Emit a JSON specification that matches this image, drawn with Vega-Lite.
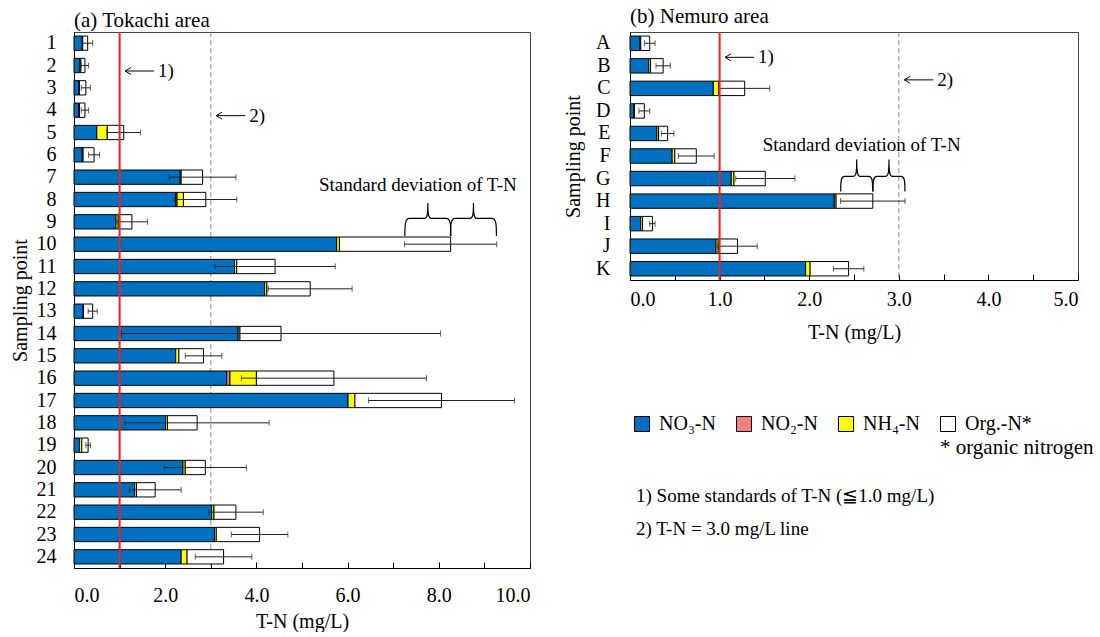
{
  "$schema": "https://vega.github.io/schema/vega-lite/v6.json",
  "background": "white",
  "padding": {"left": 9, "top": 5, "right": 5, "bottom": 0},
  "spacing": 32,
  "config": {
    "font": "Liberation Serif",
    "view": {"stroke": "#444", "strokeWidth": 1},
    "axis": {"labelFont": "Liberation Serif", "titleFont": "Liberation Serif", "labelFontSize": 20, "titleFontSize": 20, "titleFontWeight": "normal", "labelColor": "black", "titleColor": "black", "domainColor": "black", "tickColor": "black", "grid": false, "labelOverlap": false},
    "title": {"font": "Liberation Serif", "fontWeight": "normal", "color": "black"},
    "text": {"font": "Liberation Serif", "fontSize": 19, "color": "black"}
  },
  "datasets": {
    "tokachi": [
      {"point": "1", "comp": "NO₃-N", "k": 1, "v": 0.18}, {"point": "1", "comp": "NH₄-N", "k": 3, "v": 0.01}, {"point": "1", "comp": "Org.-N*", "k": 4, "v": 0.11},
      {"point": "2", "comp": "NO₃-N", "k": 1, "v": 0.12}, {"point": "2", "comp": "NH₄-N", "k": 3, "v": 0.03}, {"point": "2", "comp": "Org.-N*", "k": 4, "v": 0.09},
      {"point": "3", "comp": "NO₃-N", "k": 1, "v": 0.11}, {"point": "3", "comp": "NH₄-N", "k": 3, "v": 0.01}, {"point": "3", "comp": "Org.-N*", "k": 4, "v": 0.14},
      {"point": "4", "comp": "NO₃-N", "k": 1, "v": 0.10}, {"point": "4", "comp": "NH₄-N", "k": 3, "v": 0.02}, {"point": "4", "comp": "Org.-N*", "k": 4, "v": 0.12},
      {"point": "5", "comp": "NO₃-N", "k": 1, "v": 0.50}, {"point": "5", "comp": "NH₄-N", "k": 3, "v": 0.23}, {"point": "5", "comp": "Org.-N*", "k": 4, "v": 0.36},
      {"point": "6", "comp": "NO₃-N", "k": 1, "v": 0.18}, {"point": "6", "comp": "NH₄-N", "k": 3, "v": 0.02}, {"point": "6", "comp": "Org.-N*", "k": 4, "v": 0.24},
      {"point": "7", "comp": "NO₃-N", "k": 1, "v": 2.33}, {"point": "7", "comp": "NH₄-N", "k": 3, "v": 0.02}, {"point": "7", "comp": "Org.-N*", "k": 4, "v": 0.47},
      {"point": "8", "comp": "NO₃-N", "k": 1, "v": 2.23}, {"point": "8", "comp": "NO₂-N", "k": 2, "v": 0.03}, {"point": "8", "comp": "NH₄-N", "k": 3, "v": 0.14}, {"point": "8", "comp": "Org.-N*", "k": 4, "v": 0.49},
      {"point": "9", "comp": "NO₃-N", "k": 1, "v": 0.92}, {"point": "9", "comp": "NH₄-N", "k": 3, "v": 0.05}, {"point": "9", "comp": "Org.-N*", "k": 4, "v": 0.30},
      {"point": "10", "comp": "NO₃-N", "k": 1, "v": 5.76}, {"point": "10", "comp": "NH₄-N", "k": 3, "v": 0.06}, {"point": "10", "comp": "Org.-N*", "k": 4, "v": 2.44},
      {"point": "11", "comp": "NO₃-N", "k": 1, "v": 3.52}, {"point": "11", "comp": "NH₄-N", "k": 3, "v": 0.05}, {"point": "11", "comp": "Org.-N*", "k": 4, "v": 0.84},
      {"point": "12", "comp": "NO₃-N", "k": 1, "v": 4.18}, {"point": "12", "comp": "NH₄-N", "k": 3, "v": 0.05}, {"point": "12", "comp": "Org.-N*", "k": 4, "v": 0.95},
      {"point": "13", "comp": "NO₃-N", "k": 1, "v": 0.20}, {"point": "13", "comp": "NH₄-N", "k": 3, "v": 0.01}, {"point": "13", "comp": "Org.-N*", "k": 4, "v": 0.20},
      {"point": "14", "comp": "NO₃-N", "k": 1, "v": 3.60}, {"point": "14", "comp": "NH₄-N", "k": 3, "v": 0.04}, {"point": "14", "comp": "Org.-N*", "k": 4, "v": 0.90},
      {"point": "15", "comp": "NO₃-N", "k": 1, "v": 2.23}, {"point": "15", "comp": "NH₄-N", "k": 3, "v": 0.07}, {"point": "15", "comp": "Org.-N*", "k": 4, "v": 0.54},
      {"point": "16", "comp": "NO₃-N", "k": 1, "v": 3.35}, {"point": "16", "comp": "NO₂-N", "k": 2, "v": 0.07}, {"point": "16", "comp": "NH₄-N", "k": 3, "v": 0.58}, {"point": "16", "comp": "Org.-N*", "k": 4, "v": 1.70},
      {"point": "17", "comp": "NO₃-N", "k": 1, "v": 6.01}, {"point": "17", "comp": "NH₄-N", "k": 3, "v": 0.15}, {"point": "17", "comp": "Org.-N*", "k": 4, "v": 1.90},
      {"point": "18", "comp": "NO₃-N", "k": 1, "v": 2.01}, {"point": "18", "comp": "NH₄-N", "k": 3, "v": 0.04}, {"point": "18", "comp": "Org.-N*", "k": 4, "v": 0.65},
      {"point": "19", "comp": "NO₃-N", "k": 1, "v": 0.12}, {"point": "19", "comp": "NH₄-N", "k": 3, "v": 0.05}, {"point": "19", "comp": "Org.-N*", "k": 4, "v": 0.14},
      {"point": "20", "comp": "NO₃-N", "k": 1, "v": 2.39}, {"point": "20", "comp": "NH₄-N", "k": 3, "v": 0.05}, {"point": "20", "comp": "Org.-N*", "k": 4, "v": 0.44},
      {"point": "21", "comp": "NO₃-N", "k": 1, "v": 1.33}, {"point": "21", "comp": "NH₄-N", "k": 3, "v": 0.04}, {"point": "21", "comp": "Org.-N*", "k": 4, "v": 0.41},
      {"point": "22", "comp": "NO₃-N", "k": 1, "v": 3.02}, {"point": "22", "comp": "NH₄-N", "k": 3, "v": 0.05}, {"point": "22", "comp": "Org.-N*", "k": 4, "v": 0.48},
      {"point": "23", "comp": "NO₃-N", "k": 1, "v": 3.08}, {"point": "23", "comp": "NH₄-N", "k": 3, "v": 0.04}, {"point": "23", "comp": "Org.-N*", "k": 4, "v": 0.95},
      {"point": "24", "comp": "NO₃-N", "k": 1, "v": 2.35}, {"point": "24", "comp": "NH₄-N", "k": 3, "v": 0.13}, {"point": "24", "comp": "Org.-N*", "k": 4, "v": 0.80}
    ],
    "tokachiErr": [
      {"point": "1", "total": 0.30, "sd": 0.11}, {"point": "2", "total": 0.24, "sd": 0.08}, {"point": "3", "total": 0.26, "sd": 0.10},
      {"point": "4", "total": 0.24, "sd": 0.08}, {"point": "5", "total": 1.09, "sd": 0.37}, {"point": "6", "total": 0.44, "sd": 0.12},
      {"point": "7", "total": 2.82, "sd": 0.73}, {"point": "8", "total": 2.89, "sd": 0.68}, {"point": "9", "total": 1.27, "sd": 0.34},
      {"point": "10", "total": 8.26, "sd": 1.01}, {"point": "11", "total": 4.41, "sd": 1.32}, {"point": "12", "total": 5.18, "sd": 0.92},
      {"point": "13", "total": 0.41, "sd": 0.10}, {"point": "14", "total": 4.54, "sd": 3.50}, {"point": "15", "total": 2.84, "sd": 0.40},
      {"point": "16", "total": 5.70, "sd": 2.03}, {"point": "17", "total": 8.06, "sd": 1.60}, {"point": "18", "total": 2.70, "sd": 1.58},
      {"point": "19", "total": 0.31, "sd": 0.05}, {"point": "20", "total": 2.88, "sd": 0.90}, {"point": "21", "total": 1.78, "sd": 0.57},
      {"point": "22", "total": 3.55, "sd": 0.60}, {"point": "23", "total": 4.07, "sd": 0.62}, {"point": "24", "total": 3.28, "sd": 0.62}
    ],
    "nemuro": [
      {"point": "A", "comp": "NO₃-N", "k": 1, "v": 0.11}, {"point": "A", "comp": "NH₄-N", "k": 3, "v": 0.01}, {"point": "A", "comp": "Org.-N*", "k": 4, "v": 0.10},
      {"point": "B", "comp": "NO₃-N", "k": 1, "v": 0.21}, {"point": "B", "comp": "NH₄-N", "k": 3, "v": 0.02}, {"point": "B", "comp": "Org.-N*", "k": 4, "v": 0.14},
      {"point": "C", "comp": "NO₃-N", "k": 1, "v": 0.93}, {"point": "C", "comp": "NH₄-N", "k": 3, "v": 0.06}, {"point": "C", "comp": "Org.-N*", "k": 4, "v": 0.29},
      {"point": "D", "comp": "NO₃-N", "k": 1, "v": 0.04}, {"point": "D", "comp": "NH₄-N", "k": 3, "v": 0.01}, {"point": "D", "comp": "Org.-N*", "k": 4, "v": 0.11},
      {"point": "E", "comp": "NO₃-N", "k": 1, "v": 0.30}, {"point": "E", "comp": "NH₄-N", "k": 3, "v": 0.02}, {"point": "E", "comp": "Org.-N*", "k": 4, "v": 0.10},
      {"point": "F", "comp": "NO₃-N", "k": 1, "v": 0.47}, {"point": "F", "comp": "NH₄-N", "k": 3, "v": 0.03}, {"point": "F", "comp": "Org.-N*", "k": 4, "v": 0.24},
      {"point": "G", "comp": "NO₃-N", "k": 1, "v": 1.13}, {"point": "G", "comp": "NH₄-N", "k": 3, "v": 0.03}, {"point": "G", "comp": "Org.-N*", "k": 4, "v": 0.35},
      {"point": "H", "comp": "NO₃-N", "k": 1, "v": 2.28}, {"point": "H", "comp": "NH₄-N", "k": 3, "v": 0.02}, {"point": "H", "comp": "Org.-N*", "k": 4, "v": 0.41},
      {"point": "I", "comp": "NO₃-N", "k": 1, "v": 0.12}, {"point": "I", "comp": "NH₄-N", "k": 3, "v": 0.02}, {"point": "I", "comp": "Org.-N*", "k": 4, "v": 0.11},
      {"point": "J", "comp": "NO₃-N", "k": 1, "v": 0.96}, {"point": "J", "comp": "NH₄-N", "k": 3, "v": 0.025}, {"point": "J", "comp": "Org.-N*", "k": 4, "v": 0.215},
      {"point": "K", "comp": "NO₃-N", "k": 1, "v": 1.96}, {"point": "K", "comp": "NH₄-N", "k": 3, "v": 0.05}, {"point": "K", "comp": "Org.-N*", "k": 4, "v": 0.43}
    ],
    "nemuroErr": [
      {"point": "A", "total": 0.22, "sd": 0.06}, {"point": "B", "total": 0.37, "sd": 0.08}, {"point": "C", "total": 1.28, "sd": 0.28},
      {"point": "D", "total": 0.16, "sd": 0.06}, {"point": "E", "total": 0.42, "sd": 0.07}, {"point": "F", "total": 0.74, "sd": 0.20},
      {"point": "G", "total": 1.51, "sd": 0.33}, {"point": "H", "total": 2.71, "sd": 0.36}, {"point": "I", "total": 0.25, "sd": 0.03},
      {"point": "J", "total": 1.20, "sd": 0.22}, {"point": "K", "total": 2.44, "sd": 0.17}
    ]
  },
  "hconcat": [
    {
      "width": 456,
      "height": 536,
      "title": {"text": "(a) Tokachi area", "anchor": "start", "frame": "group", "fontSize": 21, "offset": 0},
      "layer": [
        {
          "data": {"values": [{"x": 3}]},
          "mark": {"type": "rule", "stroke": "#8c8c8c", "strokeDash": [5, 3], "strokeWidth": 1},
          "encoding": {"x": {"field": "x", "type": "quantitative", "title": "T-N (mg/L)"}}
        },
        {
          "data": {"name": "tokachi"},
          "mark": {"type": "bar", "stroke": "black", "strokeWidth": 1},
          "encoding": {
            "y": {"field": "point", "type": "nominal", "title": "Sampling point",
              "sort": ["1","2","3","4","5","6","7","8","9","10","11","12","13","14","15","16","17","18","19","20","21","22","23","24"],
              "scale": {"domain": ["1","2","3","4","5","6","7","8","9","10","11","12","13","14","15","16","17","18","19","20","21","22","23","24"], "paddingInner": 0.36, "paddingOuter": 0.18},
              "axis": {"ticks": false, "labelPadding": 18, "titlePadding": 6}},
            "x": {"field": "v", "type": "quantitative", "stack": "zero", "title": "T-N (mg/L)",
              "scale": {"domain": [0, 10], "nice": false},
              "axis": {"values": [0,1,2,3,4,5,6,7,8,9,10], "labelExpr": "datum.value % 2 === 0 ? format(datum.value, '.1f') : ''", "tickSize": -6, "labelPadding": 23, "titlePadding": 6}},
            "color": {"field": "comp", "type": "nominal",
              "scale": {"domain": ["NO₃-N", "NO₂-N", "NH₄-N", "Org.-N*"], "range": ["#0070C0", "#FF7C80", "#FFFF00", "#FFFFFF"]},
              "legend": {"orient": "none", "legendX": 558, "legendY": 382, "direction": "horizontal", "columns": 4, "gridAlign": "all", "symbolType": "square", "symbolSize": 225, "symbolStrokeColor": "black", "symbolStrokeWidth": 1, "labelFont": "Liberation Serif", "labelFontSize": 20, "labelColor": "black", "labelOffset": 7, "columnPadding": 8, "title": null}},
            "order": {"field": "k", "type": "quantitative"}
          }
        },
        {
          "data": {"name": "tokachiErr"},
          "mark": {"type": "errorbar", "color": "#222", "thickness": 1, "ticks": {"size": 6}},
          "encoding": {
            "y": {"field": "point", "type": "nominal", "title": "Sampling point"},
            "x": {"field": "total", "type": "quantitative", "title": "T-N (mg/L)"},
            "xError": {"field": "sd"}
          }
        },
        {
          "data": {"values": [{"x": 1}]},
          "mark": {"type": "rule", "stroke": "#EE2222", "strokeWidth": 2},
          "encoding": {"x": {"field": "x", "type": "quantitative", "title": "T-N (mg/L)"}}
        },
        {
          "data": {"values": [{"x": 1, "point": "2"}, {"x": 3, "point": "4"}]},
          "mark": {"type": "point", "shape": "M -1 0 L 1 0 M -0.6 -0.24 L -1 0 L -0.6 0.24", "size": 841, "filled": false, "stroke": "black", "strokeWidth": 1, "opacity": 1, "xOffset": 20, "yOffset": 5.5},
          "encoding": {
            "x": {"field": "x", "type": "quantitative", "title": "T-N (mg/L)"},
            "y": {"field": "point", "type": "nominal", "title": "Sampling point"}
          }
        },
        {
          "data": {"values": [{"x": 1, "point": "2", "label": "1)"}, {"x": 3, "point": "4", "label": "2)"}]},
          "mark": {"type": "text", "align": "left", "baseline": "middle", "xOffset": 38.5, "yOffset": 5.5},
          "encoding": {
            "x": {"field": "x", "type": "quantitative", "title": "T-N (mg/L)"},
            "y": {"field": "point", "type": "nominal", "title": "Sampling point"},
            "text": {"field": "label"}
          }
        },
        {
          "data": {"values": [{"x": 7.54, "point": "8", "label": "Standard deviation of T-N"}]},
          "mark": {"type": "text", "align": "center", "baseline": "middle", "yOffset": -14.5},
          "encoding": {
            "x": {"field": "x", "type": "quantitative", "title": "T-N (mg/L)"},
            "y": {"field": "point", "type": "nominal", "title": "Sampling point"},
            "text": {"field": "label"}
          }
        },
        {
          "data": {"values": [{"x": 7.76, "point": "9"}, {"x": 8.76, "point": "9"}]},
          "mark": {"type": "point", "shape": "M -1 0.717 C -1 0.2 -0.98 -0.05 -0.8 -0.05 L -0.15 -0.05 C -0.03 -0.05 0 -0.2 0 -0.717 C 0 -0.2 0.03 -0.05 0.15 -0.05 L 0.8 -0.05 C 0.98 -0.05 1 0.2 1 0.717", "size": 2116, "filled": false, "stroke": "black", "strokeWidth": 1.2, "opacity": 1, "yOffset": -2.3},
          "encoding": {
            "x": {"field": "x", "type": "quantitative", "title": "T-N (mg/L)"},
            "y": {"field": "point", "type": "nominal", "title": "Sampling point"}
          }
        }
      ]
    },
    {
      "title": {"text": ["1) Some standards of T-N (≦1.0 mg/L)", "2) T-N = 3.0 mg/L line"], "orient": "bottom", "anchor": "start", "frame": "group", "fontSize": 19, "lineHeight": 33, "offset": 29, "dx": 6},
      "vconcat": [
        {
          "title": {"text": "* organic nitrogen", "orient": "bottom", "anchor": "start", "frame": "group", "fontSize": 21, "offset": 94, "dx": 310},
          "vconcat": [
            {
              "width": 448,
              "height": 248,
              "title": {"text": "(b) Nemuro area", "anchor": "start", "frame": "group", "fontSize": 21, "offset": 4},
              "layer": [
                {
                  "data": {"values": [{"x": 3}]},
                  "mark": {"type": "rule", "stroke": "#8c8c8c", "strokeDash": [5, 3], "strokeWidth": 1},
                  "encoding": {"x": {"field": "x", "type": "quantitative", "title": "T-N (mg/L)"}}
                },
                {
                  "data": {"name": "nemuro"},
                  "mark": {"type": "bar", "stroke": "black", "strokeWidth": 1},
                  "encoding": {
                    "y": {"field": "point", "type": "nominal", "title": "Sampling point",
                      "sort": ["A","B","C","D","E","F","G","H","I","J","K"],
                      "scale": {"domain": ["A","B","C","D","E","F","G","H","I","J","K"], "paddingInner": 0.36, "paddingOuter": 0.18},
                      "axis": {"ticks": false, "labelPadding": 20, "titlePadding": 12}},
                    "x": {"field": "v", "type": "quantitative", "stack": "zero", "title": "T-N (mg/L)",
                      "scale": {"domain": [0, 5], "nice": false},
                      "axis": {"values": [0,0.5,1,1.5,2,2.5,3,3.5,4,4.5,5], "labelExpr": "datum.value % 1 === 0 ? format(datum.value, '.1f') : ''", "tickSize": -6, "labelPadding": 15, "titlePadding": 13}},
                    "color": {"field": "comp", "type": "nominal",
                      "scale": {"domain": ["NO₃-N", "NO₂-N", "NH₄-N", "Org.-N*"], "range": ["#0070C0", "#FF7C80", "#FFFF00", "#FFFFFF"]},
                      "legend": {"orient": "none", "legendX": 558, "legendY": 382, "direction": "horizontal", "columns": 4, "gridAlign": "all", "symbolType": "square", "symbolSize": 225, "symbolStrokeColor": "black", "symbolStrokeWidth": 1, "labelFont": "Liberation Serif", "labelFontSize": 20, "labelColor": "black", "labelOffset": 7, "columnPadding": 8, "title": null}},
                    "order": {"field": "k", "type": "quantitative"}
                  }
                },
                {
                  "data": {"name": "nemuroErr"},
                  "mark": {"type": "errorbar", "color": "#222", "thickness": 1, "ticks": {"size": 6}},
                  "encoding": {
                    "y": {"field": "point", "type": "nominal", "title": "Sampling point"},
                    "x": {"field": "total", "type": "quantitative", "title": "T-N (mg/L)"},
                    "xError": {"field": "sd"}
                  }
                },
                {
                  "data": {"values": [{"x": 1}]},
                  "mark": {"type": "rule", "stroke": "#EE2222", "strokeWidth": 2},
                  "encoding": {"x": {"field": "x", "type": "quantitative", "title": "T-N (mg/L)"}}
                },
                {
                  "data": {"values": [{"x": 1, "point": "B"}, {"x": 3, "point": "C"}]},
                  "mark": {"type": "point", "shape": "M -1 0 L 1 0 M -0.6 -0.24 L -1 0 L -0.6 0.24", "size": 841, "filled": false, "stroke": "black", "strokeWidth": 1, "opacity": 1, "xOffset": 20, "yOffset": -8.5},
                  "encoding": {
                    "x": {"field": "x", "type": "quantitative", "title": "T-N (mg/L)"},
                    "y": {"field": "point", "type": "nominal", "title": "Sampling point"}
                  }
                },
                {
                  "data": {"values": [{"x": 1, "point": "B", "label": "1)"}, {"x": 3, "point": "C", "label": "2)"}]},
                  "mark": {"type": "text", "align": "left", "baseline": "middle", "xOffset": 38.5, "yOffset": -8.5},
                  "encoding": {
                    "x": {"field": "x", "type": "quantitative", "title": "T-N (mg/L)"},
                    "y": {"field": "point", "type": "nominal", "title": "Sampling point"},
                    "text": {"field": "label"}
                  }
                },
                {
                  "data": {"values": [{"x": 2.586, "point": "F", "label": "Standard deviation of T-N"}]},
                  "mark": {"type": "text", "align": "center", "baseline": "middle", "yOffset": -11},
                  "encoding": {
                    "x": {"field": "x", "type": "quantitative", "title": "T-N (mg/L)"},
                    "y": {"field": "point", "type": "nominal", "title": "Sampling point"},
                    "text": {"field": "label"}
                  }
                },
                {
                  "data": {"values": [{"x": 2.53, "point": "G"}, {"x": 2.89, "point": "G"}]},
                  "mark": {"type": "point", "shape": "M -1 1 C -1 0.3 -0.97 0.05 -0.75 0.05 L -0.2 0.05 C -0.04 0.05 0 -0.2 0 -1 C 0 -0.2 0.04 0.05 0.2 0.05 L 0.75 0.05 C 0.97 0.05 1 0.3 1 1", "size": 1024, "filled": false, "stroke": "black", "strokeWidth": 1.2, "opacity": 1, "yOffset": -3},
                  "encoding": {
                    "x": {"field": "x", "type": "quantitative", "title": "T-N (mg/L)"},
                    "y": {"field": "point", "type": "nominal", "title": "Sampling point"}
                  }
                }
              ]
            }
          ]
        }
      ]
    }
  ],
  "resolve": {"scale": {"x": "independent", "y": "independent", "color": "shared"}}
}
